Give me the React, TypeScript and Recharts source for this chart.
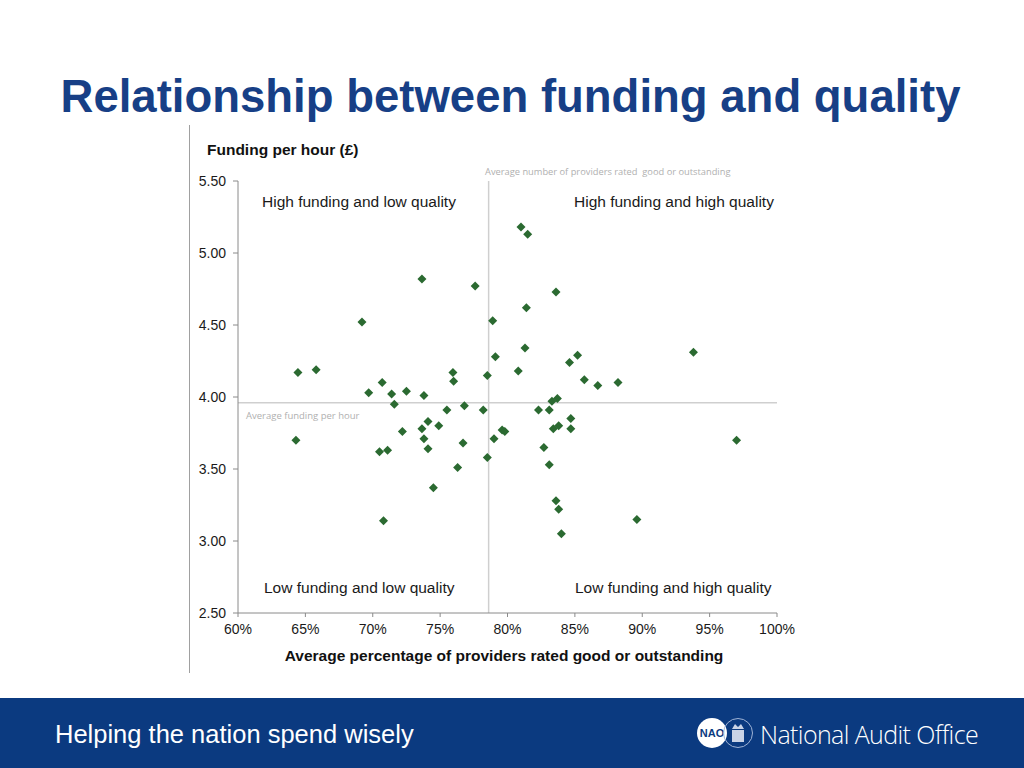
import React from "react";
import {
  ScatterChart,
  Scatter,
  XAxis,
  YAxis,
  ReferenceLine,
} from "recharts";

// average % of providers rated good or outstanding, per local authority
const quality = [
  64.45, 65.8, 64.3, 69.2, 73.65, 77.6, 69.7, 70.7, 71.4, 71.6, 72.5,
  73.8, 75.95, 76.0, 78.5, 72.2, 70.5, 71.1, 73.65, 74.1, 73.8, 74.1,
  74.9, 75.5, 76.8, 78.2, 76.7, 76.3, 74.5, 78.5, 70.8, 81.0, 81.5,
  83.6, 81.4, 78.9, 81.3, 79.1, 80.8, 84.6, 85.2, 85.7, 86.7, 88.2,
  93.8, 83.3, 83.7, 82.3, 83.1, 84.7, 84.7, 83.4, 83.8, 79.6, 79.8,
  79.0, 82.7, 83.1, 83.6, 83.8, 84.0, 89.6, 97.0,
];

// funding per hour (£)
const funding = [
  4.17, 4.19, 3.7, 4.52, 4.82, 4.77, 4.03, 4.1, 4.02, 3.95, 4.04,
  4.01, 4.17, 4.11, 4.15, 3.76, 3.62, 3.63, 3.78, 3.83, 3.71, 3.64,
  3.8, 3.91, 3.94, 3.91, 3.68, 3.51, 3.37, 3.58, 3.14, 5.18, 5.13,
  4.73, 4.62, 4.53, 4.34, 4.28, 4.18, 4.24, 4.29, 4.12, 4.08, 4.1,
  4.31, 3.97, 3.99, 3.91, 3.91, 3.85, 3.78, 3.78, 3.8, 3.77, 3.76,
  3.71, 3.65, 3.53, 3.28, 3.22, 3.05, 3.15, 3.7,
];

const xTicks = [60, 65, 70, 75, 80, 85, 90, 95, 100];
const yTicks = [2.5, 3.0, 3.5, 4.0, 4.5, 5.0, 5.5];

const avgQuality = 78.6;
const avgFunding = 3.96;

const points = quality.map((q, i) => ({ q, f: funding[i] }));

const FONT = '"Liberation Sans", Arial, sans-serif';

const Diamond = (props: any) => {
  const { cx, cy } = props;
  const r = 4.5;
  return (
    <polygon
      points={`${cx},${cy - r} ${cx + r},${cy} ${cx},${cy + r} ${cx - r},${cy}`}
      fill="#2b6a31"
    />
  );
};

const quadLabel: React.CSSProperties = {
  position: "absolute",
  fontFamily: FONT,
  fontSize: 15.5,
  color: "#1a1a1a",
  whiteSpace: "nowrap",
};

export default function App() {
  return (
    <div
      style={{
        position: "absolute",
        left: 0,
        top: 0,
        width: 1024,
        height: 768,
        background: "#fff",
        overflow: "hidden",
        fontFamily: FONT,
      }}
    >
      <div
        style={{
          position: "absolute",
          left: 0,
          width: 1021,
          top: 71,
          textAlign: "center",
          fontSize: 45.5,
          fontWeight: "bold",
          color: "#173f86",
          whiteSpace: "nowrap",
        }}
      >
        Relationship between funding and quality
      </div>

      <div
        style={{
          position: "absolute",
          left: 189,
          top: 125,
          width: 1,
          height: 548,
          background: "#a0a0a0",
        }}
      />

      <div
        style={{
          position: "absolute",
          left: 207,
          top: 141,
          fontSize: 15.5,
          fontWeight: "bold",
          color: "#111",
          whiteSpace: "nowrap",
        }}
      >
        Funding per hour (£)
      </div>

      <div
        style={{
          position: "absolute",
          left: 176,
          width: 656,
          top: 647,
          textAlign: "center",
          fontSize: 15.5,
          fontWeight: "bold",
          color: "#111",
          whiteSpace: "nowrap",
        }}
      >
        Average percentage of providers rated good or outstanding
      </div>

      <div
        style={{
          position: "absolute",
          left: 485,
          top: 165,
          fontSize: 9.3,
          fontFamily: '"Open Sans", sans-serif',
          color: "#b0b0b0",
          whiteSpace: "nowrap",
        }}
      >
        Average number of providers rated&nbsp; good or outstanding
      </div>
      <div
        style={{
          position: "absolute",
          left: 246,
          top: 409,
          fontSize: 9.5,
          fontFamily: '"Open Sans", sans-serif',
          color: "#b0b0b0",
          whiteSpace: "nowrap",
        }}
      >
        Average funding per hour
      </div>

      <div style={{ position: "absolute", left: 180, top: 130 }}>
        <ScatterChart
          width={640}
          height={540}
          margin={{ top: 51, right: 43, bottom: 0, left: 0 }}
        >
          <XAxis
            type="number"
            dataKey="q"
            domain={[60, 100]}
            ticks={xTicks}
            tickFormatter={(v) => `${v}%`}
            height={57}
            axisLine={{ stroke: "#8a8a8a" }}
            tickLine={{ stroke: "#8a8a8a" }}
            tickSize={4}
            tickMargin={7}
            tick={{ fill: "#1a1a1a", fontSize: 14, fontFamily: FONT }}
            interval={0}
          />
          <YAxis
            type="number"
            dataKey="f"
            domain={[2.5, 5.5]}
            ticks={yTicks}
            tickFormatter={(v) => v.toFixed(2)}
            width={58}
            axisLine={{ stroke: "#8a8a8a" }}
            tickLine={{ stroke: "#8a8a8a" }}
            tickSize={5}
            tickMargin={7}
            tick={{ fill: "#1a1a1a", fontSize: 14, fontFamily: FONT }}
            interval={0}
          />
          <ReferenceLine x={avgQuality} stroke="#cfcfcf" strokeWidth={1.5} />
          <ReferenceLine y={avgFunding} stroke="#cfcfcf" strokeWidth={1.5} />
          <Scatter data={points} shape={Diamond} isAnimationActive={false} />
        </ScatterChart>
      </div>

      <div style={{ ...quadLabel, left: 262, top: 193 }}>
        High funding and low quality
      </div>
      <div style={{ ...quadLabel, left: 574, top: 193 }}>
        High funding and high quality
      </div>
      <div style={{ ...quadLabel, left: 264, top: 579 }}>
        Low funding and low quality
      </div>
      <div style={{ ...quadLabel, left: 575, top: 579 }}>
        Low funding and high quality
      </div>

      <div
        style={{
          position: "absolute",
          left: 0,
          top: 698,
          width: 1024,
          height: 70,
          background: "#0b3a80",
        }}
      >
        <div
          style={{
            position: "absolute",
            left: 55,
            top: 22,
            fontSize: 25.5,
            color: "#fff",
            whiteSpace: "nowrap",
          }}
        >
          Helping the nation spend wisely
        </div>
        <svg
          style={{ position: "absolute", left: 695, top: 18 }}
          width={60}
          height={34}
        >
          <circle cx={17} cy={17} r={15} fill="#fff" />
          <text
            x={17}
            y={21}
            textAnchor="middle"
            fontSize={11}
            fontWeight="bold"
            fill="#0b3a80"
            fontFamily={FONT}
          >
            NAO
          </text>
          <circle cx={43} cy={17} r={14.5} fill="none" stroke="#9fb3d6" strokeWidth={1} />
          <rect x={37} y={14} width={12} height={12} fill="#c9d3e6" />
          <path d="M37 13 L40 8 L43 11 L46 8 L49 13 Z" fill="#c9d3e6" />
        </svg>
        <div
          style={{
            position: "absolute",
            left: 760,
            top: 19,
            fontSize: 25,
            fontWeight: 300,
            fontFamily: '"Open Sans", sans-serif',
            color: "#fff",
            whiteSpace: "nowrap",
            letterSpacing: -0.6,
          }}
        >
          National Audit Office
        </div>
      </div>
    </div>
  );
}
